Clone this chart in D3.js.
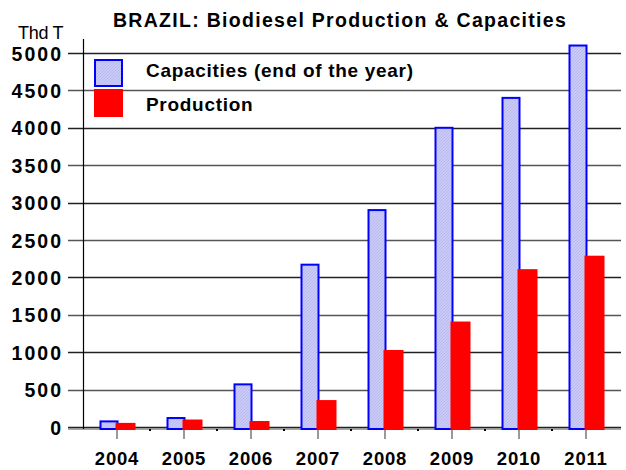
<!DOCTYPE html>
<html>
<head>
<meta charset="utf-8">
<script src="https://cdn.jsdelivr.net/npm/d3@7"></script>
<style>
  body { margin: 0; background: #fff; }
  text { font-family: "Liberation Sans", Arial, sans-serif; }
</style>
</head>
<body>
<script>
const years = ["2004", "2005", "2006", "2007", "2008", "2009", "2010", "2011"];
const capacities = [75, 120, 570, 2170, 2900, 4000, 4400, 5100];
const production = [55, 100, 80, 360, 1030, 1410, 2110, 2290];
const yTicks = [0, 500, 1000, 1500, 2000, 2500, 3000, 3500, 4000, 4500, 5000];
const seriesNames = ["Capacities (end of the year)", "Production"];

const W = 626, H = 470;
const plotLeft = 83, plotRight = 619, plotTop = 53, plotBottom = 427;

const svg = d3.select("body").append("svg")
    .attr("width", W)
    .attr("height", H);

// hatch for the capacity bars
const defs = svg.append("defs");
const pat = defs.append("pattern")
    .attr("id", "hatch")
    .attr("patternUnits", "userSpaceOnUse")
    .attr("width", 3).attr("height", 3);
pat.append("rect").attr("width", 3).attr("height", 3).attr("fill", "#cacaf8");
pat.append("path").attr("d", "M0,3 L3,0").attr("stroke", "#b2b2ea").attr("stroke-width", 0.7);

const x = d3.scaleBand().domain(years).range([plotLeft, plotRight]);
const y = d3.scaleLinear().domain([0, 5000]).range([plotBottom, plotTop]);
const bw = x.bandwidth();

// grid lines
svg.append("g")
  .selectAll("line")
  .data(yTicks)
  .join("line")
    .attr("x1", 68).attr("x2", 621)
    .attr("y1", d => Math.round(y(d)) + 0.5)
    .attr("y2", d => Math.round(y(d)) + 0.5)
    .attr("stroke", (d, i) => i % 2 ? "#555" : "#222")
    .attr("stroke-width", 1.3);

// floor line under zero
svg.append("line")
    .attr("x1", 68).attr("x2", 621)
    .attr("y1", plotBottom + 2).attr("y2", plotBottom + 2)
    .attr("stroke", "#888").attr("stroke-width", 1.3);

// y axis line
svg.append("line")
    .attr("x1", plotLeft + 0.5).attr("x2", plotLeft + 0.5)
    .attr("y1", 39).attr("y2", plotBottom + 2)
    .attr("stroke", "#000").attr("stroke-width", 1.2);

// y tick labels
svg.append("g")
  .selectAll("text")
  .data(yTicks)
  .join("text")
    .attr("x", 63)
    .attr("y", d => y(d) + 7.5)
    .attr("text-anchor", "end")
    .attr("font-size", 19.5)
    .attr("font-weight", "bold")
    .attr("letter-spacing", 2)
    .text(d => d);

// category ticks
svg.append("g")
  .selectAll("line")
  .data(years)
  .join("line")
    .attr("x1", d => x(d) + bw / 2 + 0.5)
    .attr("x2", d => x(d) + bw / 2 + 0.5)
    .attr("y1", plotBottom + 2).attr("y2", plotBottom + 12)
    .attr("stroke", "#555").attr("stroke-width", 1.2);

svg.append("g")
  .selectAll("rect")
  .data(years.slice(1))
  .join("rect")
    .attr("x", d => x(d) - 1)
    .attr("y", plotBottom + 2)
    .attr("width", 2).attr("height", 2)
    .attr("fill", "#000");

// capacity bars
svg.append("g")
  .selectAll("rect")
  .data(capacities)
  .join("rect")
    .attr("x", (d, i) => x(years[i]) + bw / 2 - 16)
    .attr("y", d => y(d))
    .attr("width", 17)
    .attr("height", d => plotBottom + 2 - y(d))
    .attr("fill", "url(#hatch)")
    .attr("stroke", "#0000ff")
    .attr("stroke-width", 2);

// production bars
svg.append("g")
  .selectAll("rect")
  .data(production)
  .join("rect")
    .attr("x", (d, i) => x(years[i]) + bw / 2 - 1)
    .attr("y", d => y(d))
    .attr("width", 20)
    .attr("height", d => plotBottom + 3 - y(d))
    .attr("fill", "#ff0000");

// x labels
svg.append("g")
  .selectAll("text")
  .data(years)
  .join("text")
    .attr("x", d => x(d) + bw / 2 + 0.5)
    .attr("y", 465)
    .attr("text-anchor", "middle")
    .attr("font-size", 18.5)
    .attr("font-weight", "bold")
    .attr("letter-spacing", 0.8)
    .text(d => d);

// title
svg.append("text")
    .attr("x", 340).attr("y", 27)
    .attr("text-anchor", "middle")
    .attr("font-size", 19.5)
    .attr("font-weight", "bold")
    .attr("letter-spacing", 1.3)
    .text("BRAZIL: Biodiesel Production & Capacities");

svg.append("text")
    .attr("x", 18).attr("y", 39)
    .attr("font-size", 18)
    .attr("letter-spacing", -0.3)
    .text("Thd T");

// legend
const legend = svg.append("g");
legend.append("rect")
    .attr("x", 95).attr("y", 60).attr("width", 27).attr("height", 26)
    .attr("fill", "url(#hatch)").attr("stroke", "#0000ff").attr("stroke-width", 2);
legend.append("rect")
    .attr("x", 94).attr("y", 89).attr("width", 29).attr("height", 28)
    .attr("fill", "#ff0000");
legend.selectAll("text")
  .data(seriesNames)
  .join("text")
    .attr("x", 146)
    .attr("y", (d, i) => i ? 111 : 77)
    .attr("font-size", 19)
    .attr("font-weight", "bold")
    .attr("letter-spacing", 0.7)
    .text(d => d);
</script>
</body>
</html>
